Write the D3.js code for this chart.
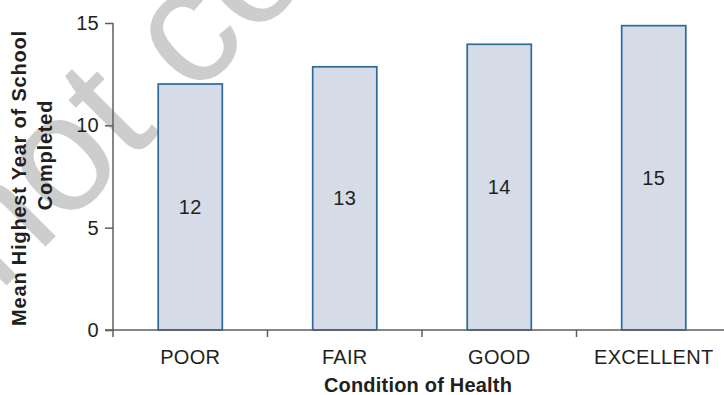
<!DOCTYPE html>
<html>
<head>
<meta charset="utf-8">
<script src="https://cdn.jsdelivr.net/npm/d3@7"></script>
<style>
  html, body { margin: 0; padding: 0; background: #fff; }
  svg { display: block; }
  text { font-family: "Liberation Sans", Arial, Helvetica, sans-serif; fill: #231f20; }
</style>
</head>
<body>
<svg id="chart" width="724" height="395"></svg>
<script>
// Mean highest year of school completed, by self-rated health
const categories = ["POOR", "FAIR", "GOOD", "EXCELLENT"];
const meanYears = [12.02, 12.86, 13.96, 14.87];
const yTicks = [0, 5, 10, 15];
const xTitle = "Condition of Health";
const yTitleLines = ["Mean Highest Year of School", "Completed"];
const watermarkText = "Do not copy, post, or distribute";

const svg = d3.select("#chart");
const W = 724, H = 395;

const plot = { left: 113, right: 731, top: 23, bottom: 330 };

// faint diagonal watermark behind the chart
svg.append("text")
  .attr("transform", "translate(-183,475) rotate(-45)")
  .style("font-size", "165px")
  .style("fill", "#cdcdcd")
  .text(watermarkText);

const y = d3.scaleLinear().domain([0, 15]).range([plot.bottom, plot.top]);

// full category slots (used for tick boundaries)
const xSlots = d3.scaleBand().domain(categories).range([plot.left, plot.right]).padding(0);
// bars inside each slot
const x = d3.scaleBand().domain(categories).range([plot.left, plot.right])
  .paddingInner(0.585).paddingOuter(0.2925);

const axisColor = "#5e5e5e";
const labelSize = "20px";

// bars
svg.append("g").selectAll("rect")
  .data(categories)
  .join("rect")
  .attr("x", d => x(d))
  .attr("y", (d, i) => y(meanYears[i]))
  .attr("width", x.bandwidth())
  .attr("height", (d, i) => y(0) - y(meanYears[i]))
  .attr("fill", "#d5dce8")
  .attr("stroke", "#2d6a99")
  .attr("stroke-width", 1.7);

// value labels, centred in each bar
svg.append("g").selectAll("text")
  .data(categories)
  .join("text")
  .attr("x", d => x(d) + x.bandwidth() / 2)
  .attr("y", (d, i) => (y(meanYears[i]) + y(0)) / 2)
  .attr("text-anchor", "middle")
  .attr("dominant-baseline", "central")
  .style("font-size", labelSize)
  .style("letter-spacing", "0.3px")
  .text((d, i) => d3.format(".0f")(meanYears[i]));

// y axis
const yAxis = d3.axisLeft(y).tickValues(yTicks).tickSize(8).tickPadding(6).tickSizeOuter(0);
const gy = svg.append("g").attr("transform", `translate(${plot.left},0)`).call(yAxis);
gy.select(".domain").remove();
gy.append("line")
  .attr("x1", 0).attr("x2", 0)
  .attr("y1", y(15)).attr("y2", y(0) + 7);
gy.selectAll("line").attr("stroke", axisColor).attr("stroke-width", 1.5);
gy.selectAll("text")
  .style("font-size", labelSize)
  .style("letter-spacing", "0.3px")
  .attr("fill", "#231f20")
  .style("font-family", "'Liberation Sans', Arial, sans-serif");

// x axis: baseline line plus ticks at slot boundaries
const gx = svg.append("g");
gx.append("line")
  .attr("x1", plot.left - 8).attr("x2", W)
  .attr("y1", y(0)).attr("y2", y(0))
  .attr("stroke", axisColor).attr("stroke-width", 1.5);
gx.selectAll("line.tick")
  .data(categories.slice(1))
  .join("line")
  .attr("class", "tick")
  .attr("x1", d => xSlots(d)).attr("x2", d => xSlots(d))
  .attr("y1", y(0)).attr("y2", y(0) + 7)
  .attr("stroke", axisColor).attr("stroke-width", 1.5);
gx.selectAll("text")
  .data(categories)
  .join("text")
  .attr("x", d => x(d) + x.bandwidth() / 2)
  .attr("y", y(0) + 34)
  .attr("text-anchor", "middle")
  .style("font-size", labelSize)
  .style("letter-spacing", "0.3px")
  .text(d => d);

// axis titles
svg.append("text")
  .attr("x", (plot.left + 724) / 2 - 0.5)
  .attr("y", 392)
  .attr("text-anchor", "middle")
  .style("font-size", "20px")
  .style("font-weight", "bold")
  .style("letter-spacing", "0.2px")
  .text(xTitle);

const yTitleCentres = [178, 155];
const yTitleBaselines = [26, 52];
yTitleLines.forEach((line, i) => {
  svg.append("text")
    .attr("transform", `translate(${yTitleBaselines[i]},${yTitleCentres[i]}) rotate(-90)`)
    .attr("text-anchor", "middle")
    .style("font-size", "20px")
    .style("font-weight", "bold")
    .style("letter-spacing", "0.8px")
    .text(line);
});
</script>
</body>
</html>
